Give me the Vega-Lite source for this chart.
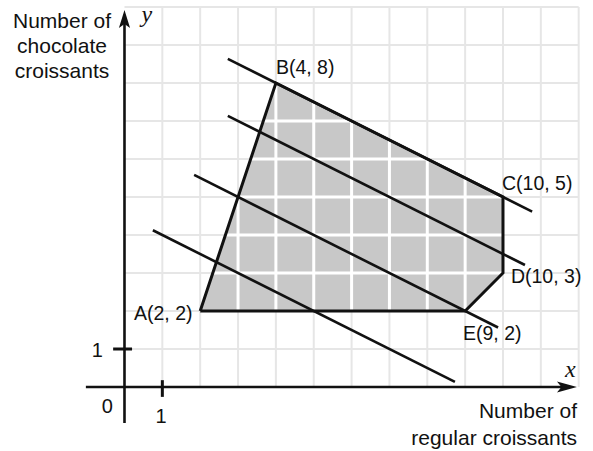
{
  "$schema": "https://vega.github.io/schema/vega-lite/v6.json",
  "width": 593,
  "height": 451,
  "autosize": {"type": "none"},
  "padding": 0,
  "background": "white",
  "config": {"view": {"stroke": null}},
  "datasets": {
    "grid": [
      {"x": 1, "y": 0, "x2": 1, "y2": 10}, {"x": 2, "y": 0, "x2": 2, "y2": 10},
      {"x": 3, "y": 0, "x2": 3, "y2": 10}, {"x": 4, "y": 0, "x2": 4, "y2": 10},
      {"x": 5, "y": 0, "x2": 5, "y2": 10}, {"x": 6, "y": 0, "x2": 6, "y2": 10},
      {"x": 7, "y": 0, "x2": 7, "y2": 10}, {"x": 8, "y": 0, "x2": 8, "y2": 10},
      {"x": 9, "y": 0, "x2": 9, "y2": 10}, {"x": 10, "y": 0, "x2": 10, "y2": 10},
      {"x": 11, "y": 0, "x2": 11, "y2": 10}, {"x": 12, "y": 0, "x2": 12, "y2": 10},
      {"x": 0, "y": 1, "x2": 12, "y2": 1}, {"x": 0, "y": 2, "x2": 12, "y2": 2},
      {"x": 0, "y": 3, "x2": 12, "y2": 3}, {"x": 0, "y": 4, "x2": 12, "y2": 4},
      {"x": 0, "y": 5, "x2": 12, "y2": 5}, {"x": 0, "y": 6, "x2": 12, "y2": 6},
      {"x": 0, "y": 7, "x2": 12, "y2": 7}, {"x": 0, "y": 8, "x2": 12, "y2": 8},
      {"x": 0, "y": 9, "x2": 12, "y2": 9}, {"x": 0, "y": 10, "x2": 12, "y2": 10}
    ],
    "fill": [
      {"x": 2, "y": 2, "y2": 2},
      {"x": 4, "y": 2, "y2": 8},
      {"x": 9, "y": 2, "y2": 5.5},
      {"x": 10, "y": 3, "y2": 5}
    ],
    "inner": [
      {"x": 3, "y": 2, "x2": 3, "y2": 5}, {"x": 4, "y": 2, "x2": 4, "y2": 8},
      {"x": 5, "y": 2, "x2": 5, "y2": 7.5}, {"x": 6, "y": 2, "x2": 6, "y2": 7},
      {"x": 7, "y": 2, "x2": 7, "y2": 6.5}, {"x": 8, "y": 2, "x2": 8, "y2": 6},
      {"x": 9, "y": 2, "x2": 9, "y2": 5.5},
      {"x": 2.333, "y": 3, "x2": 10, "y2": 3}, {"x": 2.667, "y": 4, "x2": 10, "y2": 4},
      {"x": 3, "y": 5, "x2": 10, "y2": 5}, {"x": 3.333, "y": 6, "x2": 8, "y2": 6},
      {"x": 3.667, "y": 7, "x2": 6, "y2": 7}
    ],
    "polygon": [
      {"x": 2, "y": 2, "o": 0}, {"x": 4, "y": 8, "o": 1}, {"x": 10, "y": 5, "o": 2},
      {"x": 10, "y": 3, "o": 3}, {"x": 9, "y": 2, "o": 4}, {"x": 2, "y": 2, "o": 5}
    ],
    "objective": [
      {"x": 2.73, "y": 8.635, "x2": 10.77, "y2": 4.615},
      {"x": 2.73, "y": 7.135, "x2": 10.58, "y2": 3.21},
      {"x": 1.84, "y": 5.58, "x2": 9.87, "y2": 1.565},
      {"x": 0.75, "y": 4.125, "x2": 8.73, "y2": 0.135}
    ],
    "axes": [
      {"x": -1.02, "y": 0, "x2": 11.69, "y2": 0},
      {"x": 0, "y": -0.95, "x2": 0, "y2": 9.68}
    ],
    "ticks": [
      {"x": 1, "y": -0.26, "x2": 1, "y2": 0.18},
      {"x": -0.3, "y": 1, "x2": 0.2, "y2": 1}
    ],
    "arrowUp": [{"x": 0, "y": 9.684}],
    "arrowRight": [{"x": 11.69, "y": 0}],
    "vertexLabels": [
      {"x": 0.251, "y": 1.763, "label": "A(2, 2)"},
      {"x": 4.0, "y": 8.237, "label": "B(4, 8)"},
      {"x": 9.974, "y": 5.184, "label": "C(10, 5)"},
      {"x": 10.21, "y": 2.737, "label": "D(10, 3)"},
      {"x": 8.943, "y": 1.237, "label": "E(9, 2)"}
    ],
    "numRight": [
      {"x": -0.304, "y": -0.684, "label": "0"},
      {"x": -0.568, "y": 0.789, "label": "1"}
    ],
    "numCenter": [
      {"x": 0.964, "y": -0.947, "label": "1"}
    ],
    "titleY": [
      {"x": -1.651, "y": 9.447, "label": "Number of"},
      {"x": -1.651, "y": 8.789, "label": "chocolate"},
      {"x": -1.651, "y": 8.132, "label": "croissants"}
    ],
    "titleX": [
      {"x": 11.955, "y": -0.816, "label": "Number of"},
      {"x": 11.955, "y": -1.526, "label": "regular croissants"}
    ],
    "vars": [
      {"x": 0.449, "y": 9.605, "label": "y"},
      {"x": 11.638, "y": 0.263, "label": "x"}
    ]
  },
  "encoding": {
    "x": {"field": "x", "type": "quantitative", "scale": {"domain": [-3.289, 12.378], "nice": false, "zero": false}, "axis": null},
    "y": {"field": "y", "type": "quantitative", "scale": {"domain": [-1.684, 10.184], "nice": false, "zero": false}, "axis": null}
  },
  "layer": [
    {
      "data": {"name": "grid"},
      "mark": {"type": "rule", "color": "#e6e6e6", "strokeWidth": 2},
      "encoding": {"x2": {"field": "x2"}, "y2": {"field": "y2"}}
    },
    {
      "data": {"name": "fill"},
      "mark": {"type": "area", "color": "#c8c8c8", "opacity": 1, "orient": "vertical"},
      "encoding": {"y2": {"field": "y2"}}
    },
    {
      "data": {"name": "inner"},
      "mark": {"type": "rule", "color": "#ffffff", "strokeWidth": 3},
      "encoding": {"x2": {"field": "x2"}, "y2": {"field": "y2"}}
    },
    {
      "data": {"name": "polygon"},
      "mark": {"type": "line", "color": "#111111", "strokeWidth": 3, "strokeJoin": "miter"},
      "encoding": {"order": {"field": "o", "type": "quantitative"}}
    },
    {
      "data": {"name": "objective"},
      "mark": {"type": "rule", "color": "#111111", "strokeWidth": 2.6},
      "encoding": {"x2": {"field": "x2"}, "y2": {"field": "y2"}}
    },
    {
      "data": {"name": "axes"},
      "mark": {"type": "rule", "color": "#111111", "strokeWidth": 2.6},
      "encoding": {"x2": {"field": "x2"}, "y2": {"field": "y2"}}
    },
    {
      "data": {"name": "ticks"},
      "mark": {"type": "rule", "color": "#111111", "strokeWidth": 3},
      "encoding": {"x2": {"field": "x2"}, "y2": {"field": "y2"}}
    },
    {
      "data": {"name": "arrowUp"},
      "mark": {"type": "point", "shape": "M0,-1L0.62,1L0,0.55L-0.62,1Z", "size": 324, "filled": true, "color": "#111111", "opacity": 1, "strokeWidth": 0},
      "encoding": {}
    },
    {
      "data": {"name": "arrowRight"},
      "mark": {"type": "point", "shape": "M1,0L-1,0.55L-0.55,0L-1,-0.55Z", "size": 400, "filled": true, "color": "#111111", "opacity": 1, "strokeWidth": 0},
      "encoding": {}
    },
    {
      "data": {"name": "vertexLabels"},
      "mark": {"type": "text", "align": "left", "baseline": "alphabetic", "font": "Liberation Sans", "fontSize": 19.5, "color": "#111111"},
      "encoding": {"text": {"field": "label"}}
    },
    {
      "data": {"name": "numRight"},
      "mark": {"type": "text", "align": "right", "baseline": "alphabetic", "font": "Liberation Sans", "fontSize": 20, "color": "#111111"},
      "encoding": {"text": {"field": "label"}}
    },
    {
      "data": {"name": "numCenter"},
      "mark": {"type": "text", "align": "center", "baseline": "alphabetic", "font": "Liberation Sans", "fontSize": 20, "color": "#111111"},
      "encoding": {"text": {"field": "label"}}
    },
    {
      "data": {"name": "titleY"},
      "mark": {"type": "text", "align": "center", "baseline": "alphabetic", "font": "Liberation Sans", "fontSize": 21, "color": "#111111"},
      "encoding": {"text": {"field": "label"}}
    },
    {
      "data": {"name": "titleX"},
      "mark": {"type": "text", "align": "right", "baseline": "alphabetic", "font": "Liberation Sans", "fontSize": 21, "color": "#111111"},
      "encoding": {"text": {"field": "label"}}
    },
    {
      "data": {"name": "vars"},
      "mark": {"type": "text", "align": "left", "baseline": "alphabetic", "font": "Liberation Serif", "fontStyle": "italic", "fontSize": 24, "color": "#111111"},
      "encoding": {"text": {"field": "label"}}
    }
  ]
}
